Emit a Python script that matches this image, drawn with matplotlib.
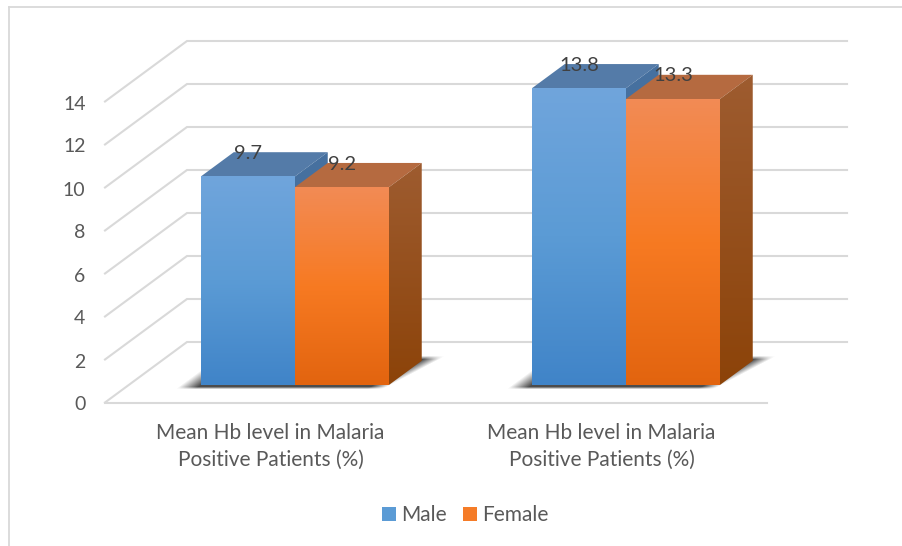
import numpy as np
import matplotlib
matplotlib.use("Agg")
import matplotlib.pyplot as plt
from matplotlib.colors import LinearSegmentedColormap
from matplotlib.patches import Patch, Polygon

# --- DATA ---
categorias = ["Mean Hb level in Malaria\nPositive Patients (%)",
              "Mean Hb level in Malaria\nPositive Patients (%)"]
series = ["Male", "Female"]
male = [9.7, 13.8]
female = [9.2, 13.3]
ticks = [0, 2, 4, 6, 8, 10, 12, 14]

# --- 3D LOOK ---
LARGURA, ALTURA = 902, 546
X0, Y0 = 105, 402.5      # front-left floor corner, in pixels
CAT_W = 331              # width of one category
DX, DY = 82, 60.5        # wall depth
V_SCALE = 21.5           # pixels per unit
BAR_W = 94 / CAT_W       # one bar, as a share of a category
BAR_SHIFT = 0.002
Z0, Z1 = 0.29, 0.69      # bar position in the depth
BACK_END = 1.994         # back wall stops a bit before the floor width

CORES = {
    "Male": {"front": ["#70A5DC", "#5B9BD5", "#4084C8"], "top": "#547BA8",
             "side": ["#47719F", "#44709F"], "legend": "#5B9BD5"},
    "Female": {"front": ["#F28B55", "#F77A22", "#E2640F"], "top": "#B56A40",
               "side": ["#9E5C30", "#8C4309"], "legend": "#F57C28"},
}
CINZA = "#D9D9D9"


def proj(x, v, z=0.0):
    # x in category units, v in chart values, z in wall depth
    return X0 + x * CAT_W + z * DX, Y0 - v * V_SCALE - z * DY


def face_gradiente(ax, pts, cores, zorder):
    pts = np.array(pts)
    cmap = LinearSegmentedColormap.from_list("g", cores)
    grad = np.linspace(0, 1, 256).reshape(-1, 1)
    img = ax.imshow(grad, cmap=cmap, aspect="auto", zorder=zorder,
                    extent=(pts[:, 0].min(), pts[:, 0].max(),
                            pts[:, 1].max(), pts[:, 1].min()))
    img.set_clip_path(Polygon(pts, closed=True, transform=ax.transData))


def barra(ax, x, v, cores, zorder):
    x1 = x + BAR_W
    frente = [proj(x, v, Z0), proj(x1, v, Z0), proj(x1, 0, Z0), proj(x, 0, Z0)]
    topo = [proj(x, v, Z0), proj(x1, v, Z0), proj(x1, v, Z1), proj(x, v, Z1)]
    lado = [proj(x1, v, Z0), proj(x1, v, Z1), proj(x1, 0, Z1), proj(x1, 0, Z0)]
    ax.add_patch(Polygon(topo, closed=True, fc=cores["top"], ec="none", zorder=zorder))
    face_gradiente(ax, lado, cores["side"], zorder)
    face_gradiente(ax, frente, cores["front"], zorder + 0.1)


def sombra(ax, grupos):
    # soft shadow on the floor, computed per pixel in floor coordinates
    yy, xx = np.mgrid[0:ALTURA, 0:LARGURA] + 0.5
    z = (Y0 - yy) / DY
    x = (xx - X0 - z * DX) / CAT_W
    alfa = np.zeros(x.shape)
    for x_ini, x_fim in grupos:
        esq = (x - (x_ini - 0.06)) / 0.06
        dir_ = ((x_fim + 0.005 + (z - Z0) * 0.1) - x) / 0.05
        fre = (z - (Z0 - 0.07)) / 0.04
        tra = ((Z1 + 0.08) - z) / 0.06
        a = np.clip(esq, 0, 1) * np.clip(dir_, 0, 1) * np.clip(fre, 0, 1) * np.clip(tra, 0, 1)
        alfa = np.maximum(alfa, a)
    rgba = np.zeros(x.shape + (4,))
    rgba[..., :3] = 0.22
    rgba[..., 3] = alfa * 0.9
    ax.imshow(rgba, extent=(0, LARGURA, ALTURA, 0), aspect="auto", zorder=1.5)


fig = plt.figure(figsize=(9.02, 5.46), dpi=100)
ax = fig.add_axes([0, 0, 1, 1])
plt.rcParams["font.family"] = ["Lato", "DejaVu Sans"]

# moldura: only the top and left edges are in the picture
ax.plot([9, 902], [7.3, 7.3], color=CINZA, lw=1.3, zorder=0)
ax.plot([9, 9], [7.3, 546], color=CINZA, lw=1.3, zorder=0)

# paredes
for t in ticks:
    xs, ys = zip(proj(0, t, 0), proj(0, t, 1), proj(BACK_END, t, 1))
    ax.plot(xs, ys, color=CINZA, lw=1.5, zorder=1, solid_joinstyle="miter")
    px, py = proj(0, t, 0)
    ax.text(px - 19.5, py + 2.5, str(t), ha="right", va="center", fontsize=14, color="#595959")
xs, ys = zip(proj(0, 0, 0), proj(2, 0, 0))
ax.plot(xs, ys, color=CINZA, lw=1.5, zorder=1)

# barras
grupos = []
for i, cat in enumerate(categorias):
    centro = i + 0.5 + BAR_SHIFT
    grupos.append((centro - BAR_W, centro + BAR_W))
    barra(ax, centro - BAR_W, male[i], CORES["Male"], 2)
    barra(ax, centro, female[i], CORES["Female"], 3)
    for x, v in ((centro - BAR_W, male[i]), (centro, female[i])):
        px, py = proj(x + BAR_W / 2, v, (Z0 + Z1) / 2)
        ax.text(px - 16, py - 11, f"{v}", ha="center", va="center", fontsize=14.5,
                color="#404040", zorder=6)
    px, _ = proj(i + 0.5, 0, 0)
    ax.text(px, 446.5, cat, ha="center", va="center", fontsize=15, color="#595959",
            linespacing=1.4, zorder=6)
sombra(ax, grupos)

handles = [Patch(fc=CORES[s]["legend"], ec="none", label=s) for s in series]
ax.legend(handles=handles, loc="center", bbox_to_anchor=(465.5, 515),
          bbox_transform=ax.transData, ncol=2, frameon=False, fontsize=15,
          labelcolor="#595959", handlelength=0.65, handleheight=0.65,
          handletextpad=0.25, columnspacing=0.8)

ax.set_xlim(0, LARGURA)
ax.set_ylim(ALTURA, 0)
ax.axis("off")

fig.savefig("out.png", dpi=100, facecolor="white")
